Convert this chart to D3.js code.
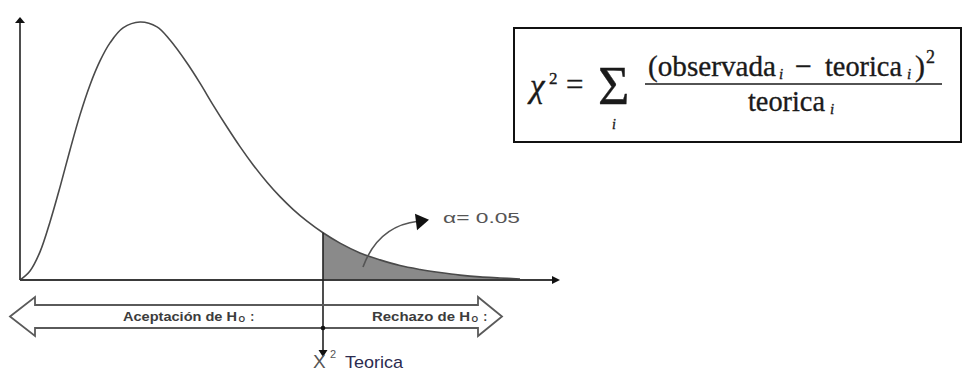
<!DOCTYPE html>
<html><head><meta charset="utf-8">
<script src="https://cdn.jsdelivr.net/npm/d3@7"></script>
<style>body{margin:0;background:#fff}svg{display:block}</style>
</head><body>
<svg id="c" width="963" height="377"></svg>
<script>
// ---- data ----
const densityX = [0,0.5,1,1.5,2,2.5,3,3.5,4,4.5,5.15,6,6.85,7.5,8.35,9,9.65,10.35,11,11.65,12.35,13,13.65,14.35,15.15,16,17,18,19,20,21,22,23,24,25];
const densityY = [0,0.0035,0.0109,0.0225,0.036,0.0504,0.064,0.0756,0.0849,0.0919,0.0977,0.1,0.0981,0.093,0.0841,0.0763,0.0679,0.0593,0.0517,0.0447,0.0379,0.0323,0.0274,0.0228,0.0183,0.0143,0.0105,0.0078,0.0056,0.0041,0.0029,0.0019,0.0012,0.0008,0.0004];
const criticalValue = 15.15;
const alphaText = "α= 0.05";
const acceptLabel = "Aceptación de H";
const rejectLabel = "Rechazo de H";
const hypothesisSub = "O";
const criticalSymbol = "X";
const criticalSup = "2";
const criticalLabel = "Teorica";

const svg = d3.select("#c");
const pts = densityX.map((d,i)=>({x:d,y:densityY[i]}));

const x = d3.scaleLinear().domain([0,25]).range([20,520]);
const y = d3.scaleLinear().domain([0,0.1]).range([280,22]);

const ink = "#3a3a3a";
const curve = d3.curveCatmullRom.alpha(0.5);

// shaded tail
const tail = pts.filter(p=>p.x>=criticalValue);
svg.append("path").datum(tail)
  .attr("d", d3.area().x(d=>x(d.x)).y0(y(0)).y1(d=>y(d.y)).curve(curve))
  .attr("fill","#8a8a8a");

// density curve
svg.append("path").datum(pts)
  .attr("d", d3.line().x(d=>x(d.x)).y(d=>y(d.y)).curve(curve))
  .attr("fill","none").attr("stroke","#4a4a4a").attr("stroke-width",1.6);

// axes
const x0 = x(0), y0 = y(0);
svg.append("line").attr("x1",x0).attr("y1",y0).attr("x2",x(26.7)).attr("y2",y0)
  .attr("stroke",ink).attr("stroke-width",1.8);
svg.append("path").attr("d",`M${x(27)},${y0} L${x(26.6)},${y0-4} L${x(26.6)},${y0+4}Z`).attr("fill","#111");
svg.append("line").attr("x1",x0).attr("y1",y0).attr("x2",x0).attr("y2",y(0.1)+1)
  .attr("stroke",ink).attr("stroke-width",1.8);
svg.append("path").attr("d",`M${x0},${y(0.1)-5} L${x0-5},${y(0.1)+1} L${x0+5},${y(0.1)+1}Z`).attr("fill","#111");

// critical line
const xc = x(criticalValue);
const yc = y(densityY[densityX.indexOf(criticalValue)]);
svg.append("line").attr("x1",xc).attr("y1",yc).attr("x2",xc).attr("y2",351)
  .attr("stroke","#222").attr("stroke-width",1.6);
svg.append("path").attr("d",`M${xc},357 L${xc-4.5},350 L${xc+4.5},350Z`).attr("fill","#111");

// double arrow (acceptance / rejection)
const aL = x(-0.5), aLb = x(0.75), aRb = x(22.9), aR = x(24.1);
const hT = 297, sT = 305, mid = 316.5, sB = 328, hB = 336;
svg.append("path")
  .attr("d",`M${aL},${mid} L${aLb},${hT} L${aLb},${sT} L${aRb},${sT} L${aRb},${hT} L${aR},${mid} L${aRb},${hB} L${aRb},${sB} L${aLb},${sB} L${aLb},${hB} Z`)
  .attr("fill","none").attr("stroke","#5a5a5a").attr("stroke-width",1.8).attr("stroke-linejoin","miter");
svg.append("circle").attr("cx",xc).attr("cy",sB).attr("r",2.3).attr("fill","#111");

const lab = (txt, tx, len) => {
  const t = svg.append("text").attr("x",tx).attr("y",320.5)
    .attr("font-family","Liberation Sans, Arial, sans-serif").attr("font-size",12)
    .attr("font-weight","bold").attr("fill","#3c3c3c");
  t.append("tspan").attr("textLength",len).attr("lengthAdjust","spacingAndGlyphs").text(txt);
  t.append("tspan").attr("font-size",8.5).attr("dy",1.5).attr("dx",1.5).text(hypothesisSub);
  t.append("tspan").attr("dy",-1.5).attr("dx",5).text(":");
  return t;
};
lab(acceptLabel, 123, 114);
lab(rejectLabel, 372, 98);

// alpha annotation
svg.append("path").attr("d",`M${x(17.15)},${y(0.005)} Q${x(17.9)},${y(0.021)} ${x(19.9)},${y(0.0228)}`)
  .attr("fill","none").attr("stroke","#555").attr("stroke-width",1.6);
svg.append("path").attr("d",`M${x(20.45)},${y(0.0234)} L${x(19.75)},${y(0.0257)} L${x(19.85)},${y(0.0193)}Z`).attr("fill","#111");
svg.append("text").attr("x",x(21.15)).attr("y",y(0.0221))
  .attr("font-family","Liberation Sans, Arial, sans-serif").attr("font-size",14)
  .attr("fill","#555").attr("textLength",77).attr("lengthAdjust","spacingAndGlyphs").text(alphaText);

// critical label
const cl = svg.append("text").attr("x",xc-10).attr("y",368)
  .attr("font-family","Liberation Sans, Arial, sans-serif").attr("font-size",19);
cl.append("tspan").attr("fill","#555").text(criticalSymbol);
cl.append("tspan").attr("fill","#555").attr("font-size",11).attr("x",xc+7).attr("dy",-10).text(criticalSup);
cl.append("tspan").attr("fill","#2b2b4f").attr("font-size",17).attr("x",xc+22).attr("dy",10)
  .attr("textLength",58).attr("lengthAdjust","spacingAndGlyphs").text(criticalLabel);

// formula box
svg.append("rect").attr("x",514).attr("y",28).attr("width",447).attr("height",114)
  .attr("fill","#fff").attr("stroke","#111").attr("stroke-width",2);
const serif = "Liberation Serif, Times New Roman, serif";
const F = svg.append("g").attr("font-family",serif).attr("fill","#1a1a1a")
  .attr("stroke","#1a1a1a").attr("stroke-width",0.35);
F.append("text").attr("x",530).attr("y",97).attr("font-size",33).attr("font-style","italic").text("χ");
F.append("text").attr("x",549).attr("y",84).attr("font-size",17).text("2");
F.append("text").attr("x",566).attr("y",95).attr("font-size",31).text("=");
F.append("text").attr("x",598).attr("y",104).attr("font-size",54).text("Σ");
F.append("text").attr("x",612).attr("y",128.5).attr("font-size",14).attr("font-style","italic").text("i");
const num = F.append("text").attr("y",76).attr("font-size",30);
num.append("tspan").attr("x",648).attr("textLength",128).attr("lengthAdjust","spacingAndGlyphs").text("(observada");
num.append("tspan").attr("x",779).attr("font-size",15).attr("font-style","italic").attr("dy",3).text("i");
num.append("tspan").attr("x",795).attr("dy",-3).text("−");
num.append("tspan").attr("x",825).attr("textLength",77).attr("lengthAdjust","spacingAndGlyphs").text("teorica");
num.append("tspan").attr("x",907).attr("font-size",15).attr("font-style","italic").attr("dy",3).text("i");
num.append("tspan").attr("x",915).attr("dy",-3).text(")");
num.append("tspan").attr("x",926).attr("font-size",18).attr("dy",-13).text("2");
F.append("line").attr("x1",645).attr("x2",942).attr("y1",84).attr("y2",84).attr("stroke","#1a1a1a").attr("stroke-width",1.6);
const den = F.append("text").attr("x",748).attr("y",111).attr("font-size",30);
den.append("tspan").attr("textLength",77).attr("lengthAdjust","spacingAndGlyphs").text("teorica");
den.append("tspan").attr("x",830).attr("font-size",15).attr("font-style","italic").attr("dy",3).text("i");
</script>
</body></html>
